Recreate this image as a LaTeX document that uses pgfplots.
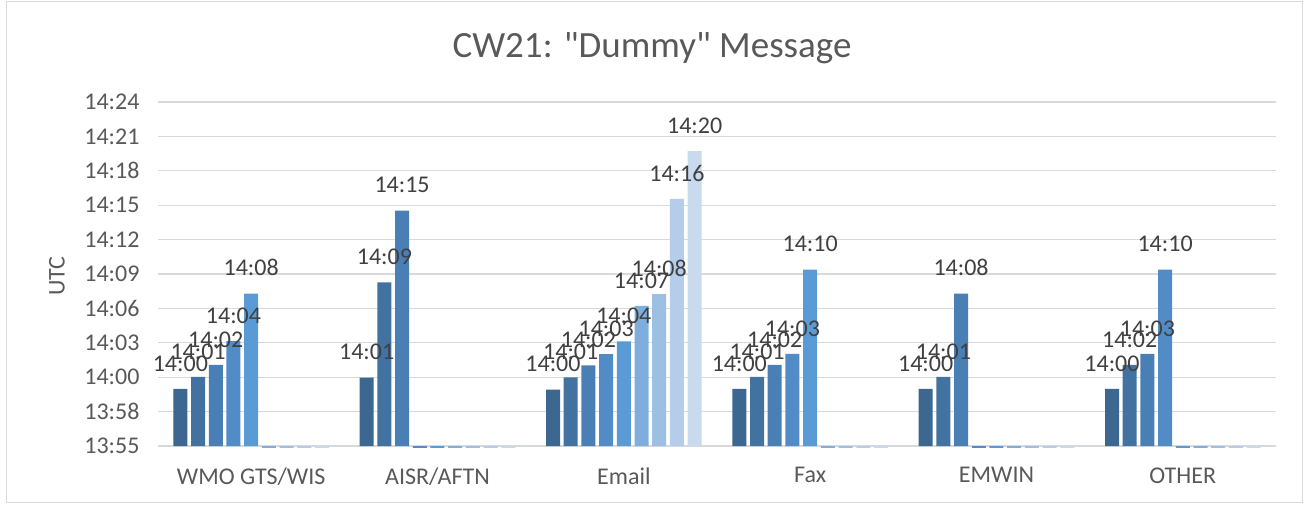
\documentclass[border=0pt]{standalone}
\usepackage{fontspec}
\setmainfont{Carlito}
\newfontfamily\titlefont{Carlito}
\usepackage{pgfplots}
\pgfplotsset{compat=1.18}

\definecolor{sA}{HTML}{3B6791}
\definecolor{sB}{HTML}{42729F}
\definecolor{sC}{HTML}{4A7FB5}
\definecolor{sD}{HTML}{528CC6}
\definecolor{sE}{HTML}{5B9BD5}
\definecolor{sF}{HTML}{7FAEDD}
\definecolor{sG}{HTML}{9DBFE4}
\definecolor{sH}{HTML}{B5CDEA}
\definecolor{sI}{HTML}{CADAEE}
\definecolor{ctext}{HTML}{595959}
\definecolor{clabel}{HTML}{404040}
\definecolor{cgrid}{HTML}{D9D9D9}

\begin{document}
\begin{tikzpicture}
\path (0,0) rectangle (1305pt,504pt);
\draw[cgrid, line width=1pt] (6pt,2pt) rectangle (1302pt,502pt);

% title and y label
\node[anchor=base, text=ctext, font=\titlefont\fontsize{37}{42}\selectfont] at (652pt,446pt) {CW21: "Dummy" Message};
\node[rotate=90, text=ctext, font=\fontsize{24}{28}\selectfont] at (57pt,228pt) {UTC};

% y values: minutes after 13:55
\begin{axis}[
  at={(158pt,58pt)}, anchor=south west,
  scale only axis, width=1118pt, height=344pt,
  xmin=-0.5, xmax=5.5, ymin=0, ymax=29,
  clip=false,
  axis line style={draw=none},
  major tick length=0pt,
  ymajorgrids,
  grid style={draw=cgrid, line width=1.2pt},
  ytick={0,2.9,5.8,8.7,11.6,14.5,17.4,20.3,23.2,26.1,29},
  yticklabels={13:55,13:58,14:00,14:03,14:06,14:09,14:12,14:15,14:18,14:21,14:24},
  xtick={0,...,5},
  xticklabels={WMO GTS/WIS,AISR/AFTN,Email,Fax,EMWIN,OTHER},
  tick label style={font=\fontsize{24}{28}\selectfont, text=ctext},
  yticklabel style={xshift=-15pt},
  xticklabel style={yshift=-18pt},
  ybar=3.7pt, bar width=14pt,
  point meta=explicit symbolic,
  nodes near coords,
  every node near coord/.append style={font=\fontsize{24}{28}\selectfont, text=clabel, yshift=14pt},
  every axis plot/.append style={draw=none},
]

\addplot[fill=sA] coordinates {(0,4.81)[14:00] (1,5.77)[14:01] (2,4.76)[14:00] (3,4.81)[14:00] (4,4.81)[14:00] (5,4.81)[14:00]};
\addplot[fill=sB] coordinates {(0,5.82)[14:01] (1,13.8)[14:09] (2,5.78)[14:01] (3,5.82)[14:01] (4,5.82)[14:01] (5,6.83)[14:02]};
\addplot[fill=sC] coordinates {(0,6.83)[14:02] (1,19.85)[14:15] (2,6.79)[14:02] (3,6.83)[14:02] (4,12.84)[14:08] (5,7.76)[14:03]};
\addplot[fill=sD] coordinates {(0,8.85)[14:04] (1,-0.15)[] (2,7.74)[14:03] (3,7.76)[14:03] (4,-0.15)[] (5,14.87)[14:10]};
\addplot[fill=sE] coordinates {(0,12.84)[14:08] (1,-0.15)[] (2,8.81)[14:04] (3,14.87)[14:10] (4,-0.15)[] (5,-0.15)[]};
\addplot[fill=sF] coordinates {(0,-0.15)[] (1,-0.15)[] (2,11.82)[14:07] (3,-0.15)[] (4,-0.15)[] (5,-0.15)[]};
\addplot[fill=sG] coordinates {(0,-0.15)[] (1,-0.15)[] (2,12.8)[14:08] (3,-0.15)[] (4,-0.15)[] (5,-0.15)[]};
\addplot[fill=sH] coordinates {(0,-0.15)[] (1,-0.15)[] (2,20.84)[14:16] (3,-0.15)[] (4,-0.15)[] (5,-0.15)[]};
\addplot[fill=sI] coordinates {(0,-0.15)[] (1,-0.15)[] (2,24.86)[14:20] (3,-0.15)[] (4,-0.15)[] (5,-0.15)[]};

\end{axis}
\end{tikzpicture}
\end{document}
